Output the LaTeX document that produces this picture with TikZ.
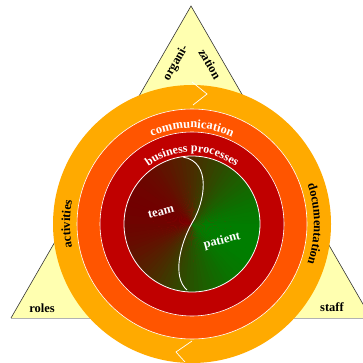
\documentclass[tikz,border=0pt]{standalone}
\usepackage{fontspec}
\setmainfont{Liberation Serif}
\usetikzlibrary{decorations.text,calc}
\definecolor{tri}{HTML}{FFFFB0}
\definecolor{ringA}{HTML}{FFAA00}
\definecolor{ringB}{HTML}{FF5500}
\definecolor{ringC}{HTML}{C00000}
\definecolor{dred}{HTML}{720000}
\definecolor{dgreen}{HTML}{007E00}
\begin{document}
\begin{tikzpicture}[x=1pt,y=1pt,
  lbl/.style={font=\fontsize{12.5}{14}\selectfont\bfseries, inner sep=0pt},
  wlbl/.style={lbl, text=white},
  gap/.style={white, line width=0.6}]
\useasboundingbox (0,0) rectangle (363,362);
\coordinate (C) at (192,138);
% triangle
\fill[tri] (191,356) -- (11,44) -- (371,44) -- cycle;
\draw[gray!60, line width=0.6] (11,44) -- (371,44);
\draw[black!80, line width=0.6] (11,44) -- (191,356) -- (371,44);
% rings
\fill[ringA] (C) circle (139);
\fill[ringB] (C) circle (115);
\fill[ringC] (C) circle (92);
% inner shaded disk
\foreach \a in {0,4,...,356} {
  \pgfmathtruncatemacro\t{50*(1+cos(\a-160))}
  \fill[dred!\t!dgreen] (C) -- ($(C)+(\a:68)$) arc[start angle=\a, end angle=\a+4.6, radius=68] -- cycle;
}
\draw[gap] (C) circle (115);
\draw[gap] (C) circle (92);
\draw[white, line width=0.8] (C) circle (68);
% S curve
\draw[white, line width=0.9] (183,205) .. controls (212,200) and (205,160) .. (192,139)
   .. controls (180,118) and (172,85) .. (187,72);
% chevrons
\draw[white, line width=0.7] (192,280) -- (207,268) -- (193,257);
\draw[white, line width=0.7] (192,21) -- (176,10) -- (185,0);
% labels
\node[lbl, rotate=60] (org) at (176,299) {organi-};
\node[lbl, rotate=-60] (zat) at (210,298) {zation};
\node[lbl] (roles) at (42,54) {roles};
\node[lbl] (staff) at (332,55) {staff};
\node[wlbl, rotate=15] (team) at (161,150) {team};
\node[wlbl, rotate=15] (patient) at (222,121) {patient};
% arc texts
\path[decorate, decoration={text along path, text align=center,
  text={|\fontsize{12.5}{14}\selectfont\bfseries\color{white}|communication}}]
  ($(C)+(150:96)$) arc[start angle=150, end angle=30, radius=96];
\path[decorate, decoration={text along path, text align=center,
  text={|\fontsize{12}{14}\selectfont\bfseries\color{white}|business processes}}]
  ($(C)+(160:72)$) arc[start angle=160, end angle=20, radius=72];
\path[decorate, decoration={text along path, text align=center,
  text={|\fontsize{12.5}{14}\selectfont\bfseries|activities}}]
  ($(C)+(205:122)$) arc[start angle=205, end angle=155, radius=122];
\path[decorate, decoration={text along path, text align=center,
  text={|\fontsize{12.5}{14}\selectfont\bfseries|documentation}}]
  ($(C)+(25:122)$) arc[start angle=25, end angle=-25, radius=122];
\end{tikzpicture}
\end{document}
